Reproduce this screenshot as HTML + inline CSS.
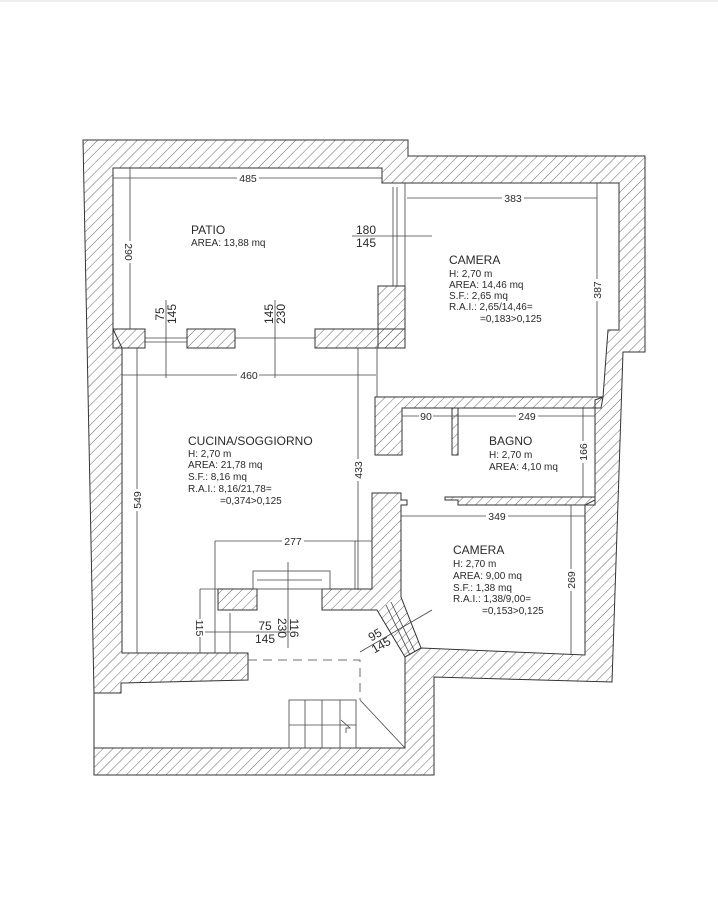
<!DOCTYPE html>
<html><head><meta charset="utf-8"><style>
html,body{margin:0;padding:0;background:#fff;}
svg{display:block;}
text{font-family:"Liberation Sans",sans-serif;fill:#2a2a2a;}
.t{font-size:12px;}
.s{font-size:10px;}
.d{font-size:10.5px;}
</style></head><body>
<svg width="718" height="900" viewBox="0 0 718 900" xmlns="http://www.w3.org/2000/svg">
<defs>
<pattern id="h" patternUnits="userSpaceOnUse" width="7" height="7" patternTransform="rotate(45)">
<line x1="0" y1="0" x2="0" y2="7" stroke="#555" stroke-width="0.9"/>
</pattern>
</defs>
<rect width="718" height="900" fill="#fff"/>
<line x1="0" y1="1" x2="718" y2="1" stroke="#ddd"/>
<g stroke="#333" stroke-width="1">
<!-- outer -->
<polygon points="83,140 408,140 408,156 645,156 645,352 623,352 612,682 434,677 434,775 94,775 94,693" fill="url(#h)"/>
<!-- interior -->
<polygon points="113,168 382,168 382,183 619,183 619,330 608,330 603,397 595,400 595,500 585,505 585,655 421,648 405,657 405,748 94,748 94,693 121,693 121,683 248,680 248,653 122,653 122,348 113,329" fill="#fff"/>
<!-- interior walls -->
<rect x="113" y="329" width="32" height="19" fill="url(#h)"/>
<rect x="187" y="329" width="48" height="19" fill="url(#h)"/>
<rect x="315" y="329" width="90" height="19" fill="url(#h)"/>
<rect x="378" y="286" width="27" height="62" fill="url(#h)"/>
<polygon points="375,397 603,397 601,408 402,408 402,455 375,455" fill="url(#h)"/>
<rect x="452" y="408" width="6" height="47" fill="url(#h)"/>
<polygon points="445,497 595,497 595,505 458,505 458,500 445,500" fill="url(#h)"/>
<polygon points="322,589 372,589 372,493 401,493 401,500 407,500 407,505 401,505 401,597 421,648 405,657 377,610 322,610" fill="url(#h)"/>
<rect x="218" y="589" width="39" height="21" fill="url(#h)"/>
</g>
<g stroke="#444" stroke-width="0.8" fill="none">
<!-- windows -->
<line x1="393" y1="187" x2="393" y2="286"/><line x1="397" y1="187" x2="397" y2="286"/>
<line x1="405" y1="183" x2="405" y2="286"/>
<line x1="145" y1="338" x2="187" y2="338"/><line x1="145" y1="342" x2="187" y2="342"/>
<line x1="235" y1="338" x2="315" y2="338"/>
<line x1="377" y1="348" x2="377" y2="397"/>
<line x1="386" y1="605" x2="410" y2="655"/><line x1="391" y1="602" x2="415" y2="652"/>
<line x1="230" y1="613" x2="230" y2="653"/>
<!-- dimension lines -->
<line x1="113" y1="178" x2="382" y2="178"/>
<line x1="130" y1="168" x2="130" y2="329"/>
<line x1="352" y1="236" x2="432" y2="236"/>
<line x1="166" y1="300" x2="166" y2="378"/>
<line x1="275" y1="300" x2="275" y2="378"/>
<line x1="122" y1="375" x2="376" y2="375"/>
<line x1="137" y1="348" x2="137" y2="653"/>
<line x1="358" y1="348" x2="358" y2="590"/>
<line x1="407" y1="198" x2="597" y2="198"/>
<line x1="597" y1="183" x2="597" y2="397"/>
<line x1="402" y1="416" x2="595" y2="416"/>
<line x1="583" y1="408" x2="583" y2="497"/>
<line x1="401" y1="516" x2="585" y2="516"/>
<line x1="571" y1="505" x2="571" y2="655"/>
<line x1="215" y1="541" x2="372" y2="541"/>
<line x1="215" y1="541" x2="215" y2="653"/>
<line x1="355" y1="541" x2="355" y2="589"/>
<line x1="200" y1="589" x2="218" y2="589"/>
<line x1="200" y1="589" x2="200" y2="653"/>
<line x1="200" y1="632" x2="290" y2="632"/>
<line x1="288" y1="562" x2="288" y2="648"/>
<line x1="360" y1="652" x2="432" y2="610"/>
<!-- stairs -->
<rect x="253" y="571" width="77" height="18"/>
<line x1="257" y1="580" x2="322" y2="580"/>
<rect x="289" y="700" width="67" height="48"/>
<line x1="305" y1="700" x2="305" y2="748"/><line x1="322" y1="700" x2="322" y2="748"/><line x1="340" y1="700" x2="340" y2="748"/>
<line x1="289" y1="725" x2="356" y2="725"/>
<line x1="360" y1="700" x2="405" y2="748"/>
<polyline points="341,720 350,728 346,728 346,733"/>
<polyline points="248,660 360,660 360,700" stroke-dasharray="9,6"/>
</g>
<!-- dim labels -->
<g class="d" text-anchor="middle">
<rect x="237" y="172" width="22" height="11" fill="#fff"/><text x="248" y="182">485</text>
<rect x="237" y="369" width="22" height="11" fill="#fff"/><text x="249" y="379">460</text>
<rect x="502" y="192" width="22" height="11" fill="#fff"/><text x="513" y="202">383</text>
<rect x="419" y="410" width="14" height="11" fill="#fff"/><text x="426" y="420">90</text>
<rect x="516" y="410" width="22" height="11" fill="#fff"/><text x="527" y="420">249</text>
<rect x="486" y="510" width="22" height="11" fill="#fff"/><text x="497" y="520">349</text>
<rect x="282" y="535" width="22" height="11" fill="#fff"/><text x="293" y="545">277</text>
<text x="366" y="234" font-size="12">180</text><text x="366" y="247" font-size="12">145</text>
<text x="265" y="630" font-size="12">75</text><text x="265" y="643" font-size="12">145</text>
<g transform="translate(129,252) rotate(90)"><rect x="-11" y="-5" width="22" height="10" fill="#fff"/><text x="0" y="4">290</text></g>
<g transform="translate(137,500) rotate(-90)"><rect x="-11" y="-5" width="22" height="10" fill="#fff"/><text x="0" y="4">549</text></g>
<g transform="translate(358,470) rotate(-90)"><rect x="-11" y="-5" width="22" height="10" fill="#fff"/><text x="0" y="4">433</text></g>
<g transform="translate(597,290) rotate(-90)"><rect x="-11" y="-5" width="22" height="10" fill="#fff"/><text x="0" y="4">387</text></g>
<g transform="translate(583,452) rotate(-90)"><rect x="-11" y="-5" width="22" height="10" fill="#fff"/><text x="0" y="4">166</text></g>
<g transform="translate(571,580) rotate(-90)"><rect x="-11" y="-5" width="22" height="10" fill="#fff"/><text x="0" y="4">269</text></g>
<g transform="translate(200,628) rotate(90)"><rect x="-9" y="-5" width="18" height="10" fill="#fff"/><text x="0" y="4">115</text></g>
<g transform="translate(166,314) rotate(-90)" font-size="12"><text x="0" y="-2">75</text><text x="0" y="10">145</text></g>
<g transform="translate(275,314) rotate(-90)" font-size="12"><text x="0" y="-2">145</text><text x="0" y="10">230</text></g>
<g transform="translate(288,628) rotate(90)" font-size="12"><text x="0" y="-2">116</text><text x="0" y="10">230</text></g>
<g transform="translate(378,640) rotate(-30)" font-size="12"><text x="0" y="-2">95</text><text x="0" y="10">145</text></g>
</g>
<!-- room labels -->
<text class="t" x="191" y="234">PATIO</text>
<text class="s" x="191" y="246">AREA: 13,88  mq</text>
<text class="t" x="449" y="264">CAMERA</text>
<text class="s" x="449" y="277">H: 2,70  m</text>
<text class="s" x="449" y="288">AREA: 14,46  mq</text>
<text class="s" x="449" y="299">S.F.: 2,65  mq</text>
<text class="s" x="449" y="310">R.A.I.:   2,65/14,46=</text>
<text class="s" x="480" y="322">=0,183&gt;0,125</text>
<text class="t" x="188" y="445">CUCINA/SOGGIORNO</text>
<text class="s" x="188" y="457">H: 2,70  m</text>
<text class="s" x="188" y="468">AREA: 21,78  mq</text>
<text class="s" x="188" y="480">S.F.: 8,16  mq</text>
<text class="s" x="188" y="492">R.A.I.:   8,16/21,78=</text>
<text class="s" x="220" y="504">=0,374&gt;0,125</text>
<text class="t" x="489" y="445">BAGNO</text>
<text class="s" x="489" y="458">H: 2,70  m</text>
<text class="s" x="489" y="470">AREA: 4,10  mq</text>
<text class="t" x="453" y="554">CAMERA</text>
<text class="s" x="453" y="567">H: 2,70  m</text>
<text class="s" x="453" y="579">AREA: 9,00  mq</text>
<text class="s" x="453" y="591">S.F.: 1,38  mq</text>
<text class="s" x="453" y="602">R.A.I.:   1,38/9,00=</text>
<text class="s" x="482" y="614">=0,153&gt;0,125</text>
</svg>
</body></html>
